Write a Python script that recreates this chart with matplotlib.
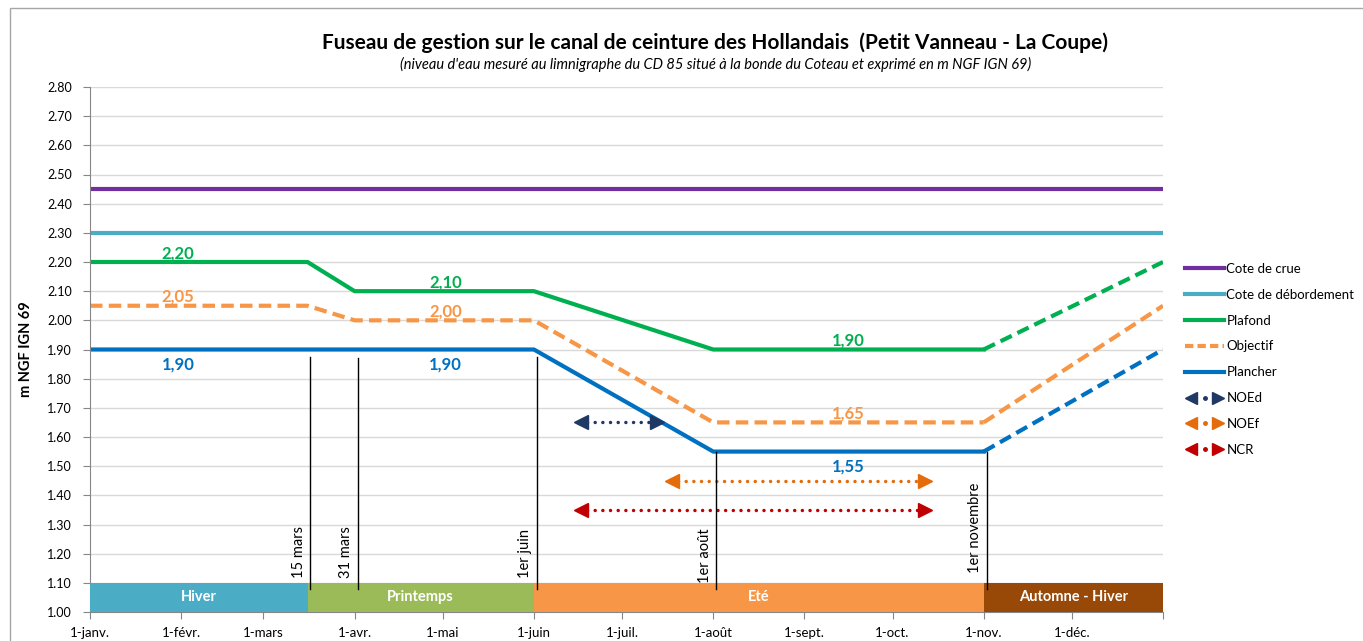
import matplotlib.pyplot as plt
from matplotlib.lines import Line2D
from matplotlib.legend_handler import HandlerTuple
from matplotlib.patches import Rectangle

plt.rcParams['font.family'] = ['Lato', 'DejaVu Sans']

# day of year (0 = 1 janv.)
month_days = [0, 31, 59, 90, 120, 151, 181, 212, 243, 273, 304, 334, 365]
month_labels = ['1-janv.', '1-févr.', '1-mars', '1-avr.', '1-mai', '1-juin',
                '1-juil.', '1-août', '1-sept.', '1-oct.', '1-nov.', '1-déc.', '']

cote_crue = 2.45
cote_debordement = 2.30

# solid part (1 janv. -> 1 nov.) and dashed part (1 nov. -> 31 déc.)
x_main = [0, 74, 90, 151, 212, 304]
plafond = [2.20, 2.20, 2.10, 2.10, 1.90, 1.90]
objectif = [2.05, 2.05, 2.00, 2.00, 1.65, 1.65]
plancher = [1.90, 1.90, 1.90, 1.90, 1.55, 1.55]
x_end = [304, 365]
plafond_end = [1.90, 2.20]
objectif_end = [1.65, 2.05]
plancher_end = [1.55, 1.90]

# value labels: (day, value, text)
plafond_lbl = [(30, 2.23, '2,20'), (121, 2.13, '2,10'), (258, 1.93, '1,90')]
objectif_lbl = [(30, 2.08, '2,05'), (121, 2.03, '2,00'), (258, 1.68, '1,65')]
plancher_lbl = [(30, 1.85, '1,90'), (121, 1.85, '1,90'), (258, 1.50, '1,55')]

# key dates: day, label, top of the vertical line
key_days = [75, 91, 152, 213, 305]
key_labels = ['15 mars', '31 mars', '1er juin', '1er août', '1er novembre']
key_tops = [1.875, 1.87, 1.875, 1.55, 1.55]
key_text_y = [1.115, 1.115, 1.115, 1.10, 1.135]

# seasons band
season_names = ['Hiver', 'Printemps', 'Eté', 'Automne - Hiver']
season_start = [0, 74, 151, 304]
season_end = [74, 151, 304, 365]
season_colors = ['#4BACC6', '#9BBB59', '#F79646', '#984807']

# arrows: start day, end day, level
noed = (165, 195, 1.65)
noef = (196, 286, 1.45)
ncr = (165, 286, 1.35)

c_crue = '#7030A0'
c_deb = '#4BACC6'
c_plaf = '#00B050'
c_obj = '#F79646'
c_plan = '#0070C0'
c_noed = '#1F3864'
c_noef = '#E46C0A'
c_ncr = '#C00000'

fig = plt.figure(figsize=(13.63, 6.41), dpi=100)
ax = fig.add_axes([90 / 1363, 1 - 612 / 641, (1163 - 90) / 1363, (612 - 87) / 641])

fig.patches.append(Rectangle((10 / 1363, -0.1), 1.2, (641 - 8) / 641 + 0.1,
                             transform=fig.transFigure, fill=False,
                             edgecolor='#A6A6A6', lw=1))

lw = 3
ax.axhline(cote_crue, color=c_crue, lw=lw)
ax.axhline(cote_debordement, color=c_deb, lw=lw)
ax.plot(x_main, plafond, color=c_plaf, lw=lw)
ax.plot(x_end, plafond_end, color=c_plaf, lw=lw, dashes=(3, 1.5))
ax.plot(x_main, objectif, color=c_obj, lw=lw, dashes=(3, 1.5))
ax.plot(x_end, objectif_end, color=c_obj, lw=lw, dashes=(3, 1.5))
ax.plot(x_main, plancher, color=c_plan, lw=lw)
ax.plot(x_end, plancher_end, color=c_plan, lw=lw, dashes=(3, 1.5))

for lbls, col in [(plafond_lbl, c_plaf), (objectif_lbl, c_obj), (plancher_lbl, c_plan)]:
    for d, v, t in lbls:
        ax.text(d, v, t, color=col, fontsize=12, fontweight='bold', ha='center', va='center')

for d, lab, top, ty in zip(key_days, key_labels, key_tops, key_text_y):
    ax.plot([d, d], [1.08, top], color='black', lw=1, zorder=4)
    ax.text(d - 1.5, ty, lab, rotation=90, ha='right', va='bottom', fontsize=10.5)

for name, s, e, c in zip(season_names, season_start, season_end, season_colors):
    ax.bar(s, 0.1, width=e - s, bottom=1.0, align='edge', color=c, zorder=3)
    ax.text((s + e) / 2, 1.05, name, color='white', fontsize=10.5, fontweight='bold',
            ha='center', va='center', zorder=5)

for (x0, x1, y), c in [(noed, c_noed), (noef, c_noef), (ncr, c_ncr)]:
    ax.plot([x0 + 4, x1 - 4], [y, y], color=c, lw=2.5, linestyle=(0, (0.01, 2.2)),
            dash_capstyle='round')
    ax.plot(x0 + 2, y, marker='<', color=c, ms=10, ls='none')
    ax.plot(x1 - 2, y, marker='>', color=c, ms=10, ls='none')

ax.set_xlim(0, 365)
ax.set_ylim(1.0, 2.8)
ax.set_yticks([1.0 + 0.1 * i for i in range(19)])
ax.set_yticklabels(['%.2f' % (1.0 + 0.1 * i) for i in range(19)], fontsize=9)
ax.set_xticks(month_days)
ax.set_xticklabels(month_labels, fontsize=9.5)
ax.tick_params(axis='x', length=5, color='#868686', pad=6)
ax.tick_params(axis='y', length=5, color='#868686', pad=8)
ax.grid(axis='y', color='#D9D9D9', lw=1)
ax.set_axisbelow(True)
for s in ['top', 'right']:
    ax.spines[s].set_visible(False)
ax.spines['left'].set_color('#868686')
ax.spines['bottom'].set_color('#868686')
ax.set_ylabel('m NGF IGN 69', fontsize=10.5, fontweight='bold', labelpad=10)

fig.text(715 / 1363, 1 - 43 / 641, 'Fuseau de gestion sur le canal de ceinture des Hollandais  (Petit Vanneau - La Coupe)',
         ha='center', va='center', fontsize=15, fontweight='bold')
fig.text(716 / 1363, 1 - 64 / 641, "(niveau d'eau mesuré au limnigraphe du CD 85 situé à la bonde du Coteau et exprimé en m NGF IGN 69)",
         ha='center', va='center', fontsize=10.5, style='italic')


def arrow_handle(c):
    return (Line2D([], [], marker='<', color=c, ms=9, ls='none'),
            Line2D([], [], marker='.', color=c, ms=5, ls='none'),
            Line2D([], [], marker='>', color=c, ms=9, ls='none'))


handles = [Line2D([], [], color=c_crue, lw=lw),
           Line2D([], [], color=c_deb, lw=lw),
           Line2D([], [], color=c_plaf, lw=lw),
           Line2D([], [], color=c_obj, lw=lw, dashes=(2, 1)),
           Line2D([], [], color=c_plan, lw=lw),
           arrow_handle(c_noed), arrow_handle(c_noef), arrow_handle(c_ncr)]
labels = ['Cote de crue', 'Cote de débordement', 'Plafond', 'Objectif', 'Plancher',
          'NOEd', 'NOEf', 'NCR']
fig.legend(handles, labels, loc='upper left', bbox_to_anchor=(1173 / 1363, 1 - 251 / 641),
           frameon=False, fontsize=9.5, handlelength=3.0, handletextpad=0.15,
           labelspacing=1.05, handler_map={tuple: HandlerTuple(ndivide=None, pad=0)})

fig.savefig('out.png', dpi=100)
